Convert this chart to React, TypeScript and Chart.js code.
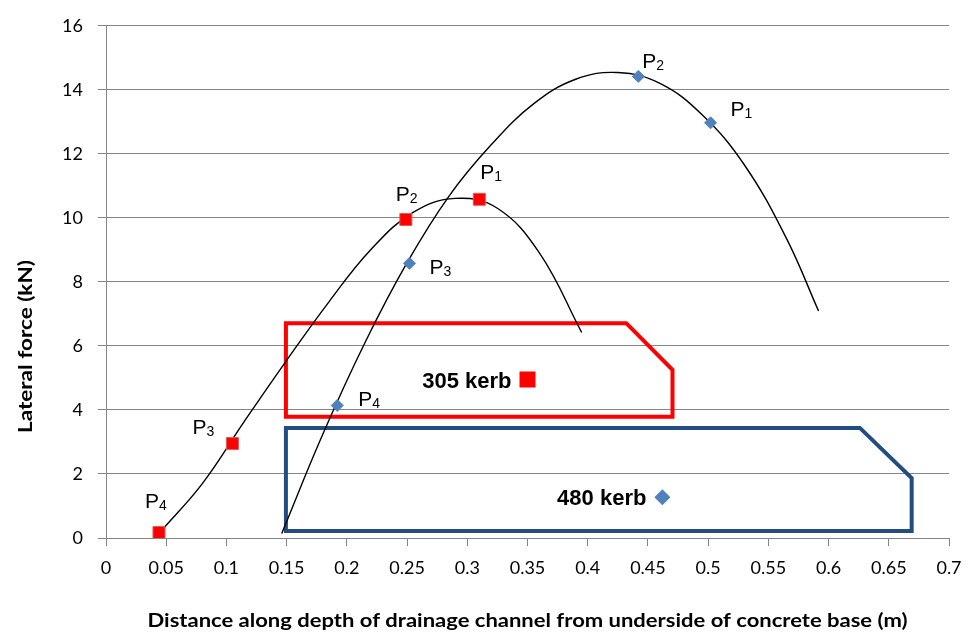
import React, { useEffect, useRef } from "react";
import { Chart, registerables } from "chart.js";

Chart.register(...registerables);

// ---------- data ----------
const xTickLabels = ["0", "0.05", "0.1", "0.15", "0.2", "0.25", "0.3", "0.35", "0.4", "0.45", "0.5", "0.55", "0.6", "0.65", "0.7"];
const yTickLabels = ["0", "2", "4", "6", "8", "10", "12", "14", "16"];

const pointLabels = ["1", "2", "3", "4"];

const kerb305X = [0.31, 0.249, 0.105, 0.044];
const kerb305Y = [10.58, 9.95, 2.95, 0.17];

const kerb480X = [0.502, 0.442, 0.252, 0.192];
const kerb480Y = [12.97, 14.42, 8.58, 4.14];

// trend curves
const fit305X = [0.045, 0.08, 0.115, 0.15, 0.185, 0.22, 0.255, 0.29, 0.325, 0.36, 0.395];
const fit305Y = [0.19, 1.7, 3.65, 5.55, 7.37, 9.01, 10.17, 10.61, 10.3, 8.9, 6.42];

const fit480X = [0.1459, 0.18, 0.215, 0.25, 0.285, 0.32, 0.355, 0.39, 0.425, 0.46, 0.495, 0.53, 0.565, 0.5917];
const fit480Y = [0.14, 3.24, 6.1, 8.6, 10.69, 12.29, 13.56, 14.33, 14.54, 14.2, 13.22, 11.66, 9.36, 7.09];

const zone305X = [0.1494, 0.1494, 0.432, 0.4704, 0.4704, 0.1494];
const zone305Y = [3.79, 6.71, 6.71, 5.25, 3.79, 3.79];

const zone480X = [0.1494, 0.1494, 0.626, 0.669, 0.669, 0.1494];
const zone480Y = [0.22, 3.44, 3.44, 1.87, 0.22, 0.22];

const legendLabels = ["305 kerb", "480 kerb"];
const legendX = [0.35, 0.462];
const legendY = [4.95, 1.27];

const xTitle = "Distance along depth of drainage channel from underside of concrete base (m)";
const yTitle = "Lateral force (kN)";

// ---------- styles / layout (pixels) ----------
const RED = "#FF0000";
const BLUE_PT = "#4F81BD";
const BLUE_ZONE = "#234C82";
const GRID = "#858585";
const label305Offsets = [[1, -20], [-10, -18], [-40, -10], [-14, -25]];
const label480Offsets = [[20, -7], [4, -8], [20, 11], [21, 1]];
const X_TITLE_WIDTH = 760;
const Y_TITLE_LENGTH = 173;

const zip = (xs: number[], ys: number[]) => xs.map((x, i) => ({ x, y: ys[i] }));

const drawFitted = (ctx: CanvasRenderingContext2D, text: string, cx: number, cy: number, target: number, rot: number) => {
  ctx.save();
  ctx.translate(cx, cy);
  ctx.rotate(rot);
  const w = ctx.measureText(text).width;
  ctx.scale(target / w, 1);
  ctx.fillText(text, 0, 0);
  ctx.restore();
};

const labelsPlugin = {
  id: "pLabels",
  afterDatasetsDraw(chart: any) {
    const { ctx, scales } = chart;
    const xs = scales.x, ys = scales.y;
    ctx.save();
    ctx.fillStyle = "#000";
    ctx.textBaseline = "alphabetic";
    ctx.textAlign = "left";
    const drawP = (px: number, py: number, sub: string) => {
      ctx.font = "21px 'Liberation Sans', Arial, sans-serif";
      ctx.fillText("P", px, py);
      const w = ctx.measureText("P").width;
      ctx.font = "14px 'Liberation Sans', Arial, sans-serif";
      ctx.fillText(sub, px + w, py + 2);
    };
    kerb305X.forEach((x, i) => {
      const px = xs.getPixelForValue(x), py = ys.getPixelForValue(kerb305Y[i]);
      drawP(px + label305Offsets[i][0], py + label305Offsets[i][1], pointLabels[i]);
    });
    kerb480X.forEach((x, i) => {
      const px = xs.getPixelForValue(x), py = ys.getPixelForValue(kerb480Y[i]);
      drawP(px + label480Offsets[i][0], py + label480Offsets[i][1], pointLabels[i]);
    });
    ctx.font = "bold 22px 'Liberation Sans', Arial, sans-serif";
    ctx.textAlign = "right";
    legendLabels.forEach((t, i) => {
      const px = xs.getPixelForValue(legendX[i]), py = ys.getPixelForValue(legendY[i]);
      ctx.fillText(t, px - 16, py + 8);
    });
    ctx.font = "bold 19.5px Lato, sans-serif";
    ctx.textAlign = "center";
    drawFitted(ctx, xTitle, (chart.chartArea.left + chart.chartArea.right) / 2, 626.5, X_TITLE_WIDTH, 0);
    drawFitted(ctx, yTitle, 31.5, 346.5, Y_TITLE_LENGTH, -Math.PI / 2);
    ctx.restore();
  },
};

export default function App() {
  const ref = useRef<HTMLCanvasElement>(null);
  useEffect(() => {
    document.body.style.margin = "0";
    const curve = (label: string, xs: number[], ys: number[]) => ({
      label,
      data: zip(xs, ys),
      showLine: true,
      pointRadius: 0,
      borderColor: "#000",
      borderWidth: 1.4,
      tension: 0.4,
      fill: false,
      order: 1,
    });
    const zone = (label: string, xs: number[], ys: number[], color: string) => ({
      label,
      data: zip(xs, ys),
      showLine: true,
      pointRadius: 0,
      borderColor: color,
      borderWidth: 4,
      tension: 0,
      borderJoinStyle: "miter",
      borderCapStyle: "square",
      fill: false,
      order: 2,
    });
    const marker = (label: string, xs: number[], ys: number[], style: string, r: number, bg: string, bc: string, bw: number) => ({
      label,
      data: zip(xs, ys),
      pointStyle: style,
      pointRadius: r,
      backgroundColor: bg,
      borderColor: bc,
      borderWidth: bw,
      showLine: false,
      order: 0,
    });
    const chart = new Chart(ref.current!, {
      type: "scatter",
      data: {
        datasets: [
          marker("305 kerb", kerb305X, kerb305Y, "rect", 8.5, RED, "rgba(225,90,90,1)", 1),
          marker("480 kerb", kerb480X, kerb480Y, "rectRot", 6, BLUE_PT, BLUE_PT, 1),
          marker("legend305", [legendX[0]], [legendY[0]], "rect", 11.3, RED, RED, 0),
          marker("legend480", [legendX[1]], [legendY[1]], "rectRot", 8, BLUE_PT, BLUE_PT, 0),
          curve("fit305", fit305X, fit305Y),
          curve("fit480", fit480X, fit480Y),
          zone("zone305", zone305X, zone305Y, RED),
          zone("zone480", zone480X, zone480Y, BLUE_ZONE),
        ],
      },
      options: {
        animation: false,
        responsive: false,
        maintainAspectRatio: false,
        layout: { padding: { top: 24, right: 29, left: 0, bottom: 0 } },
        plugins: { legend: { display: false }, tooltip: { enabled: false } },
        scales: {
          x: {
            type: "linear",
            min: 0,
            max: 0.7,
            afterFit: (s: any) => { s.height = 94; },
            ticks: {
              stepSize: 0.05,
              color: "#000",
              font: { family: "Lato", size: 18 },
              padding: 11,
              maxRotation: 0,
              autoSkip: false,
              callback: (_v: any, i: number) => xTickLabels[i],
            },
            grid: { drawOnChartArea: false, drawTicks: true, tickLength: 8, color: GRID, lineWidth: 1 },
            border: { color: GRID, width: 1 },
          },
          y: {
            type: "linear",
            min: 0,
            max: 16,
            afterFit: (s: any) => { s.width = 106; },
            ticks: {
              stepSize: 2,
              color: "#000",
              font: { family: "Lato", size: 18 },
              padding: 15,
              callback: (_v: any, i: number) => yTickLabels[i],
            },
            grid: { color: GRID, lineWidth: 1, tickLength: 8 },
            border: { color: GRID, width: 1 },
          },
        },
      },
      plugins: [labelsPlugin],
    } as any);
    return () => chart.destroy();
  }, []);
  return (
    <div style={{ width: 978, height: 632, background: "#fff" }}>
      <canvas ref={ref} width={978} height={632} style={{ display: "block" }} />
    </div>
  );
}
